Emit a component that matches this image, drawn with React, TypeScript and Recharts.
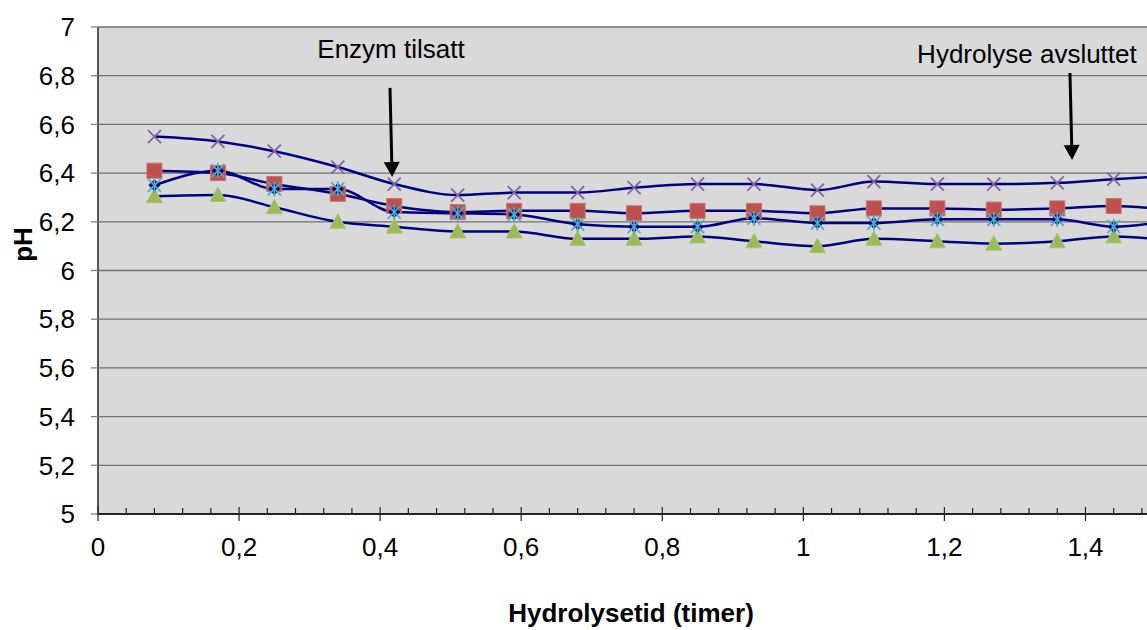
import React from 'react';
import { LineChart, Line, XAxis, YAxis, CartesianGrid, ReferenceLine, Label } from 'recharts';

const time = [0.08, 0.17, 0.25, 0.34, 0.42, 0.51, 0.59, 0.68, 0.76, 0.85, 0.93, 1.02, 1.1, 1.19, 1.27, 1.36, 1.44, 1.53];
const seriesStar = [6.35, 6.41, 6.335, 6.335, 6.24, 6.235, 6.23, 6.19, 6.18, 6.18, 6.215, 6.195, 6.195, 6.21, 6.21, 6.21, 6.18, 6.21];
const seriesSquare = [6.41, 6.4, 6.355, 6.315, 6.265, 6.24, 6.245, 6.245, 6.235, 6.245, 6.245, 6.235, 6.255, 6.255, 6.25, 6.255, 6.265, 6.245];
const seriesTriangle = [6.305, 6.31, 6.26, 6.2, 6.18, 6.16, 6.16, 6.13, 6.13, 6.14, 6.12, 6.1, 6.13, 6.12, 6.11, 6.12, 6.14, 6.12];
const seriesCross = [6.55, 6.53, 6.49, 6.425, 6.355, 6.31, 6.32, 6.32, 6.34, 6.355, 6.355, 6.33, 6.365, 6.355, 6.355, 6.36, 6.375, 6.39];

const xMajorTicks = [0, 0.2, 0.4, 0.6, 0.8, 1, 1.2, 1.4];
const xMinorTicks = [0.04, 0.08, 0.12, 0.16, 0.24, 0.28, 0.32, 0.36, 0.44, 0.48, 0.52, 0.56, 0.64, 0.68, 0.72, 0.76, 0.84, 0.88, 0.92, 0.96, 1.04, 1.08, 1.12, 1.16, 1.24, 1.28, 1.32, 1.36, 1.44, 1.48];
const yTicks = [5, 5.2, 5.4, 5.6, 5.8, 6, 6.2, 6.4, 6.6, 6.8, 7];

const annotations = [
  { text: 'Enzym tilsatt', from: { x: 0.414, y: 6.75 }, to: { x: 0.417, y: 6.384 }, dx: 1, dy: -30 },
  { text: 'Hydrolyse avsluttet', from: { x: 1.378, y: 6.811 }, to: { x: 1.381, y: 6.454 }, dx: -43, dy: -10 },
];

const data = time.map((t, i) => ({
  t,
  star: seriesStar[i],
  square: seriesSquare[i],
  tri: seriesTriangle[i],
  cross: seriesCross[i],
}));

const allXTicks = [...xMajorTicks, ...xMinorTicks].sort((a, b) => a - b);
const FONT = '"Liberation Sans", Arial, sans-serif';
const NAVY = '#000080';

const fmt = (v: number) => String(Math.round(v * 10) / 10).replace('.', ',');
const isMajor = (v: number) => xMajorTicks.some((m) => Math.abs(m - v) < 1e-6);

const XTick = (props: any) => {
  const { x, y, payload } = props;
  const v = payload.value;
  if (isMajor(v)) {
    return (
      <g>
        <line x1={x} y1={y - 7} x2={x} y2={y + 7} stroke="#222" strokeWidth={1.2} />
        <text x={x} y={y + 24} dy="0.71em" textAnchor="middle" fill="#000" fontSize={26} fontFamily={FONT}>
          {fmt(v)}
        </text>
      </g>
    );
  }
  return <line x1={x} y1={y - 6} x2={x} y2={y} stroke="#222" strokeWidth={1.2} />;
};

const SquareDot = (p: any) => {
  const { cx, cy, index } = p;
  if (cx == null || cy == null) return <g key={`s${index}`} />;
  return <rect key={`s${index}`} x={cx - 7.5} y={cy - 7.5} width={15} height={15} fill="#C0504D" stroke="#C87370" strokeWidth={1} />;
};

const TriDot = (p: any) => {
  const { cx, cy, index } = p;
  if (cx == null || cy == null) return <g key={`t${index}`} />;
  return (
    <polygon
      key={`t${index}`}
      points={`${cx},${cy - 8} ${cx + 8},${cy + 6.5} ${cx - 8},${cy + 6.5}`}
      fill="#9BBB59"
      stroke="#A9C46E"
      strokeWidth={1}
    />
  );
};

const CrossDot = (p: any) => {
  const { cx, cy, index } = p;
  if (cx == null || cy == null) return <g key={`c${index}`} />;
  const r = 6.5;
  return (
    <g key={`c${index}`}>
      <line x1={cx - r} y1={cy - r} x2={cx + r} y2={cy + r} stroke="#8064A2" strokeWidth={1.8} />
      <line x1={cx - r} y1={cy + r} x2={cx + r} y2={cy - r} stroke="#8064A2" strokeWidth={1.8} />
    </g>
  );
};

const StarDot = (p: any) => {
  const { cx, cy, index } = p;
  if (cx == null || cy == null) return <g key={`d${index}`} />;
  const r = 6.5;
  const d = 6;
  return (
    <g key={`d${index}`}>
      <polygon points={`${cx},${cy - d} ${cx + d},${cy} ${cx},${cy + d} ${cx - d},${cy}`} fill={NAVY} />
      <line x1={cx - r} y1={cy - r} x2={cx + r} y2={cy + r} stroke="#4BACC6" strokeWidth={1.8} />
      <line x1={cx - r} y1={cy + r} x2={cx + r} y2={cy - r} stroke="#4BACC6" strokeWidth={1.8} />
      <line x1={cx} y1={cy - r - 1} x2={cx} y2={cy + r + 1} stroke="#4BACC6" strokeWidth={1.8} />
    </g>
  );
};

const makeArrow = (text: string, dx: number, dy: number) => (p: any) => {
  const { x1, y1, x2, y2 } = p;
  const head = 15;
  const half = 8;
  const ang = Math.atan2(y2 - y1, x2 - x1);
  const bx = x2 - head * Math.cos(ang);
  const by = y2 - head * Math.sin(ang);
  const px = -Math.sin(ang) * half;
  const py = Math.cos(ang) * half;
  return (
    <g>
      <line x1={x1} y1={y1} x2={bx} y2={by} stroke="#000" strokeWidth={3} />
      <polygon points={`${x2},${y2} ${bx + px},${by + py} ${bx - px},${by - py}`} fill="#000" />
      <text x={x1 + dx} y={y1 + dy} textAnchor="middle" fill="#000" fontSize={26} fontFamily={FONT}>
        {text}
      </text>
    </g>
  );
};

const YTitle = (p: any) => {
  const vb = p.viewBox || { x: 0, y: 27, width: 98, height: 487 };
  const cx = vb.x + 23;
  const cy = vb.y + vb.height / 2 - 26;
  return (
    <text
      x={cx}
      y={cy}
      transform={`rotate(-90 ${cx} ${cy})`}
      textAnchor="middle"
      dominantBaseline="central"
      fill="#000"
      fontSize={26}
      fontWeight="bold"
      fontFamily={FONT}
    >
      pH
    </text>
  );
};

const XTitle = (p: any) => {
  const vb = p.viewBox || { x: 98, y: 514, width: 1058, height: 116 };
  const cx = vb.x + vb.width / 2 + 4;
  return (
    <text x={cx} y={vb.y + 108} textAnchor="middle" fill="#000" fontSize={26} fontWeight="bold" fontFamily={FONT}>
      Hydrolysetid (timer)
    </text>
  );
};

export default function App() {
  return (
    <div style={{ position: 'absolute', left: 0, top: 0, width: 1147, height: 630, overflow: 'hidden', background: '#fff' }}>
      <LineChart width={1170} height={630} data={data} margin={{ top: 27, right: 14, bottom: 0, left: 0 }}>
        <CartesianGrid vertical={false} fill="#D9D9D9" stroke="#6F6F6F" strokeWidth={1.3} fillOpacity={1} />
        <XAxis
          type="number"
          dataKey="t"
          domain={[0, 1.5]}
          allowDataOverflow
          ticks={allXTicks}
          interval={0}
          tick={<XTick />}
          tickLine={false}
          tickSize={0}
          tickMargin={0}
          axisLine={{ stroke: '#000', strokeWidth: 1.5 }}
          height={116}
        >
          <Label content={<XTitle />} />
        </XAxis>
        <YAxis
          type="number"
          domain={[5, 7]}
          ticks={yTicks}
          interval={0}
          width={98}
          tickFormatter={fmt}
          tick={{ fill: '#000', fontSize: 26, fontFamily: FONT }}
          tickLine={{ stroke: '#808080', strokeWidth: 1.3 }}
          tickSize={7}
          tickMargin={16}
          axisLine={{ stroke: '#555', strokeWidth: 2 }}
        >
          <Label content={<YTitle />} />
        </YAxis>
        <Line type="monotone" dataKey="square" stroke={NAVY} strokeWidth={2.5} dot={SquareDot} activeDot={false} isAnimationActive={false} />
        <Line type="monotone" dataKey="tri" stroke={NAVY} strokeWidth={2.5} dot={TriDot} activeDot={false} isAnimationActive={false} />
        <Line type="monotone" dataKey="cross" stroke={NAVY} strokeWidth={2.5} dot={CrossDot} activeDot={false} isAnimationActive={false} />
        <Line type="monotone" dataKey="star" stroke={NAVY} strokeWidth={2.5} dot={StarDot} activeDot={false} isAnimationActive={false} />
        {annotations.map((a) => (
          <ReferenceLine
            key={a.text}
            segment={[a.from, a.to]}
            ifOverflow="visible"
            shape={makeArrow(a.text, a.dx, a.dy)}
          />
        ))}
      </LineChart>
    </div>
  );
}
